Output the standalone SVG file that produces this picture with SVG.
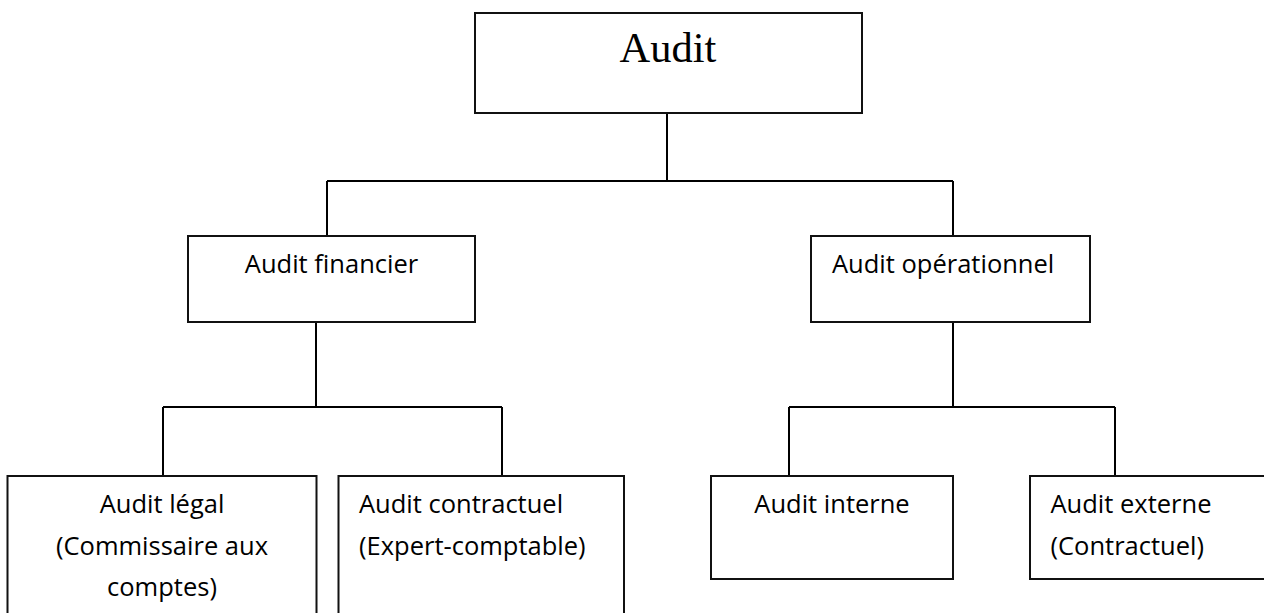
<svg xmlns="http://www.w3.org/2000/svg" width="1264" height="613" viewBox="0 0 1264 613">
<style>
.box{fill:#fff;stroke:#111;stroke-width:2}
.conn{fill:none;stroke:#000;stroke-width:2}
.t{font-family:"Open Sans","Noto Sans",sans-serif;font-size:25.5px;fill:#000}
.c{text-anchor:middle}
.title{font-family:"Liberation Serif","Times New Roman",serif;font-size:42.5px;fill:#000;text-anchor:middle}
</style>
<rect width="1264" height="613" fill="#fff"/>
<g id="connectors">
<path class="conn" d="M667 113V181M327 181H953M327 181V236M953 181V236"/>
<path class="conn" d="M316 322V407M163 407H502M163 407V476M502 407V476"/>
<path class="conn" d="M953 322V407M789 407H1115M789 407V476M1115 407V476"/>
</g>
<g id="audit">
<rect class="box" x="475" y="13" width="387" height="100"/>
<text class="title" x="668" y="62">Audit</text>
</g>
<g id="audit-financier">
<rect class="box" x="188" y="236" width="287" height="86"/>
<text class="t c" x="331.5" y="273">Audit financier</text>
</g>
<g id="audit-operationnel">
<rect class="box" x="811" y="236" width="279" height="86"/>
<text class="t" x="832" y="273">Audit opérationnel</text>
</g>
<g id="audit-legal">
<rect class="box" x="7.5" y="476" width="309" height="150"/>
<text class="t c" x="162" y="513">Audit légal</text>
<text class="t c" x="162" y="555">(Commissaire aux</text>
<text class="t c" x="162" y="596">comptes)</text>
</g>
<g id="audit-contractuel">
<rect class="box" x="338.5" y="476" width="285.5" height="150"/>
<text class="t" x="359" y="513">Audit contractuel</text>
<text class="t" x="359" y="555">(Expert-comptable)</text>
</g>
<g id="audit-interne">
<rect class="box" x="711" y="476" width="242" height="103"/>
<text class="t c" x="832" y="513">Audit interne</text>
</g>
<g id="audit-externe">
<rect class="box" x="1030" y="476" width="250" height="103"/>
<text class="t" x="1050.5" y="513">Audit externe</text>
<text class="t" x="1050.5" y="555">(Contractuel)</text>
</g>
</svg>
